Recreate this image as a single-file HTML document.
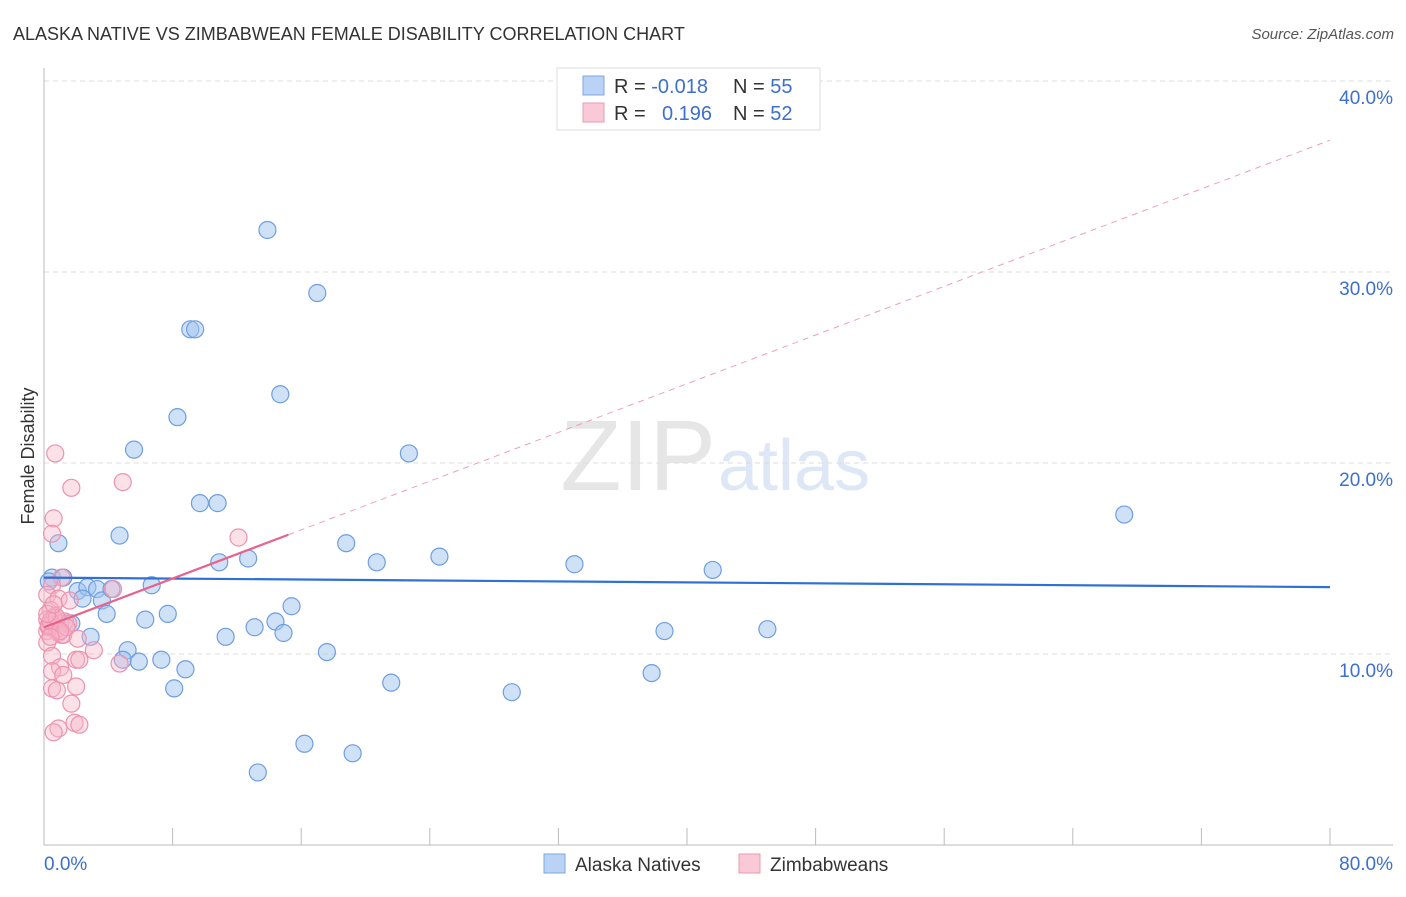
<!DOCTYPE html>
<html><head><meta charset="utf-8">
<style>
body{margin:0;background:#fff;font-family:"Liberation Sans",sans-serif;}
svg text{font-family:"Liberation Sans",sans-serif;}
</style></head>
<body>
<svg id="chart" width="1406" height="892" viewBox="0 0 1406 892" xmlns="http://www.w3.org/2000/svg">
<text x="13" y="40" font-size="18" fill="#333">ALASKA NATIVE VS ZIMBABWEAN FEMALE DISABILITY CORRELATION CHART</text>
<text x="1394" y="39" font-size="15" fill="#555" text-anchor="end" font-style="italic">Source: ZipAtlas.com</text>
<text x="716" y="490" font-size="100" fill="#e6e6e6" text-anchor="end" font-family="Liberation Serif">ZIP</text>
<text x="718" y="490" font-size="72" fill="#dde7f5">atlas</text>
<text transform="translate(34,456) rotate(-90)" font-size="18" fill="#333" text-anchor="middle">Female Disability</text>
<g id="grid"></g>
<g id="axes"></g>
<g id="marks"></g>
<g>
<rect x="557" y="68" width="263" height="62" fill="#fff" stroke="#ddd"/>
<rect x="583" y="76" width="21" height="19" fill="#b9d2f5" stroke="#7fa6e0"/>
<rect x="583" y="103" width="21" height="19" fill="#f9c9d7" stroke="#eb9ab3"/>
<text x="614" y="93" font-size="20" fill="#333">R = <tspan fill="#3d6fcc">-0.018</tspan></text>
<text x="733" y="93" font-size="20" fill="#333">N = <tspan fill="#3d6fcc">55</tspan></text>
<text x="614" y="120" font-size="20" fill="#333">R = </text>
<text x="662" y="120" font-size="20" fill="#3d6fcc">0.196</text>
<text x="733" y="120" font-size="20" fill="#333">N = <tspan fill="#3d6fcc">52</tspan></text>
</g>
<g>
<rect x="544" y="854" width="21" height="19" fill="#b9d2f5" stroke="#7fa6e0"/>
<text x="575" y="871" font-size="19" fill="#333">Alaska Natives</text>
<rect x="739" y="854" width="21" height="19" fill="#f9c9d7" stroke="#eb9ab3"/>
<text x="770" y="871" font-size="19" fill="#333">Zimbabweans</text>
</g>
</svg>
<script>
const blueX=[13.9,17.0,9.1,9.4,14.7,8.3,5.6,22.7,67.2,9.7,10.8,0.9,4.7,18.8,10.9,12.7,20.7,24.6,33.0,41.6,0.5,1.2,2.1,2.7,3.3,2.4,3.6,4.2,6.7,3.9,6.3,7.7,15.4,1.7,2.9,11.3,13.1,14.4,14.9,38.6,45.0,5.2,4.9,5.9,7.3,8.8,17.6,37.8,8.1,21.6,29.1,16.2,19.2,13.3,0.3];
const blueY=[32.2,28.9,27.0,27.0,23.6,22.4,20.7,20.5,17.3,17.9,17.9,15.8,16.2,15.8,14.8,15.0,14.8,15.1,14.7,14.4,14.0,14.0,13.3,13.5,13.4,12.9,12.8,13.4,13.6,12.1,11.8,12.1,12.5,11.6,10.9,10.9,11.4,11.7,11.1,11.2,11.3,10.2,9.7,9.6,9.7,9.2,10.1,9.0,8.2,8.5,8.0,5.3,4.8,3.8,13.8];
const pinkX=[0.7,1.7,4.9,0.6,0.5,12.1,1.1,0.5,4.3,0.2,0.9,1.6,0.4,0.7,0.2,0.5,1.0,1.3,0.2,0.9,1.1,0.3,0.6,1.5,0.8,1.2,2.1,0.2,3.1,0.5,2.0,2.2,4.7,1.0,0.5,1.2,2.0,0.5,0.8,1.7,1.9,2.2,0.9,0.6,0.3,0.4,0.8,1.4,0.2,0.6,1.0,0.4];
const pinkY=[20.5,18.7,19.0,17.1,16.3,16.1,14.0,13.6,13.4,13.1,12.9,12.8,12.3,12.0,11.8,11.5,11.6,11.7,11.2,11.1,11.0,11.4,11.9,11.6,11.3,11.0,10.8,10.6,10.2,9.9,9.7,9.7,9.5,9.3,9.1,8.9,8.3,8.2,8.1,7.4,6.4,6.3,6.1,5.9,11.5,11.7,11.9,11.4,12.1,12.6,11.2,10.9];
const yTicks=[10,20,30,40];
const yTickLabels=["10.0%","20.0%","30.0%","40.0%"];
const xTicks=[0,8,16,24,32,40,48,56,64,72,80];
const blueTrend=[14.0,13.5];
const pinkTrend=[11.4,36.9];
const pinkSolidEnd=15.2;

const NS="http://www.w3.org/2000/svg";
const X=v=>44+v*16.075, Y=v=>845-v*19.1;
function mk(tag,attrs,parent){const e=document.createElementNS(NS,tag);for(const k in attrs)e.setAttribute(k,attrs[k]);parent.appendChild(e);return e;}
const grid=document.getElementById('grid'),axes=document.getElementById('axes'),marks=document.getElementById('marks');
yTicks.forEach((t,i)=>{
  const l=mk('line',{x1:44,x2:1393,y1:Y(t),y2:Y(t),stroke:'#ddd','stroke-dasharray':'5,4'},grid);
  
  
  const tx=mk('text',{x:1393,y:Y(t)+23,'font-size':19,fill:'#3d6fcc','text-anchor':'end'},grid);
  tx.textContent=yTickLabels[i];
  
  
});
let a=mk('line',{x1:44,x2:44,y1:68,y2:845,stroke:'#bbb'},axes);


a=mk('line',{x1:44,x2:1393,y1:845,y2:845,stroke:'#bbb'},axes);


xTicks.forEach(t=>{
  const l=mk('line',{x1:X(t),x2:X(t),y1:828,y2:845,stroke:'#bbb'},axes);
  
  
});
let t=mk('text',{x:44,y:870,'font-size':19,fill:'#3d6fcc'},axes);t.textContent='0.0%';


t=mk('text',{x:1393,y:870,'font-size':19,fill:'#3d6fcc','text-anchor':'end'},axes);t.textContent='80.0%';


blueX.forEach((x,i)=>{
  const c=mk('circle',{cx:X(x),cy:Y(blueY[i]),r:8.5,fill:'rgba(160,195,240,0.5)',stroke:'#6f9ee0','stroke-width':1.2},marks);
  
  
});
pinkX.forEach((x,i)=>{
  const c=mk('circle',{cx:X(x),cy:Y(pinkY[i]),r:8.5,fill:'rgba(248,180,200,0.4)',stroke:'#ec93ae','stroke-width':1.2},marks);
  
  
});
let l=mk('line',{x1:X(0),y1:Y(blueTrend[0]),x2:X(80),y2:Y(blueTrend[1]),stroke:'#2f6fd6','stroke-width':2.2},marks);


const pAt=x=>pinkTrend[0]+(pinkTrend[1]-pinkTrend[0])*x/80;
l=mk('line',{x1:X(pinkSolidEnd),y1:Y(pAt(pinkSolidEnd)),x2:X(80),y2:Y(pinkTrend[1]),stroke:'#eca0b8','stroke-width':1,'stroke-dasharray':'6,5'},marks);


l=mk('line',{x1:X(0),y1:Y(pinkTrend[0]),x2:X(pinkSolidEnd),y2:Y(pAt(pinkSolidEnd)),stroke:'#e8628c','stroke-width':2.2},marks);


</script>
</body></html>
